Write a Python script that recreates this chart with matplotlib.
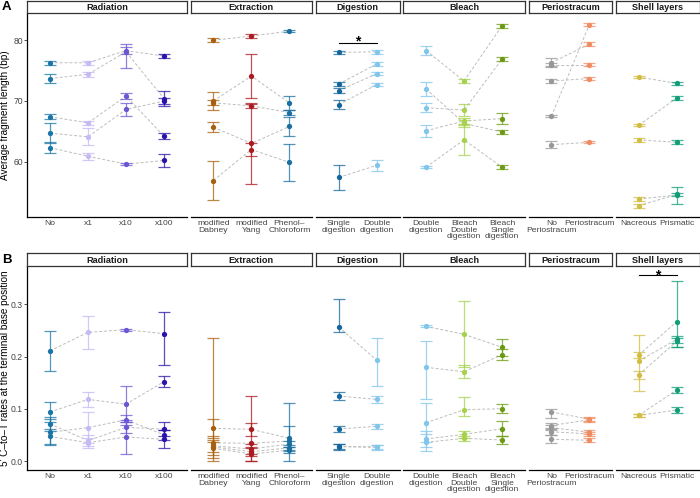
import matplotlib
matplotlib.use("Agg")
import matplotlib.pyplot as plt

plt.rcParams['font.family'] = ['Liberation Sans', 'DejaVu Sans']

# ---------------- data ----------------
panel_titles = ["Radiation", "Extraction", "Digestion", "Bleach", "Periostracum", "Shell layers"]

rad_cats = ["No", "x1", "x10", "x100"]
ext_cats = ["modified\nDabney", "modified\nYang", "Phenol–\nChloroform"]
dig_cats = ["Single\ndigestion", "Double\ndigestion"]
ble_cats = ["Double\ndigestion", "Bleach\nDouble\ndigestion", "Bleach\nSingle\ndigestion"]
per_cats = ["No\nPeriostracum", "Periostracum"]
she_cats = ["Nacreous", "Prismatic"]

rad_colors = ["#1b75a6", "#c6b9f6", "#6c55d3", "#2c12a8"]
ext_colors = ["#a8600e", "#aa1a20", "#1a6fa0"]
dig_colors = ["#14679c", "#80c5ec"]
ble_colors = ["#80c5ec", "#a6d14a", "#6b9a12"]
per_colors = ["#979797", "#f08c62"]
she_colors = ["#d2bd43", "#0f9e78"]

# Panel A: average fragment length (bp); one list per category, samples in same order
lenA_rad = [[76.3, 73.7, 67.4, 64.7, 62.3],
            [76.3, 74.4, 66.4, 64.1, 60.9],
            [78.3, 78.1, 70.8, 68.6, 59.6],
            [77.4, 70.4, 64.2, 70.0, 60.2]]
errA_rad = [[0.35, 0.7, 0.4, 1.7, 0.9],
            [0.35, 0.4, 0.35, 1.4, 0.6],
            [0.6, (2.6, 1.3), 0.45, 1.15, 0.2],
            [0.4, 1.3, 0.5, 0.5, 1.0]]
lenA_ext = [[80.0, 70.0, 69.7, 65.7, 56.9],
            [80.7, 74.1, 69.2, 63.0, 62.0],
            [81.5, 69.7, 68.1, 65.8, 59.9]]
errA_ext = [[0.3, 1.5, 0.4, 0.8, 3.2],
            [0.3, 3.6, 0.3, 6.6, 1.0],
            [0.2, 1.2, 0.4, 1.5, 3.0]]
lenA_dig = [[78.0, 72.8, 71.7, 69.4, 57.4],
            [78.1, 76.1, 74.5, 72.7, 59.4]]
errA_dig = [[0.3, 0.4, 0.4, 0.8, 2.0],
            [0.3, 0.3, 0.3, 0.3, 0.9]]
lenA_ble = [[78.3, 72.0, 68.9, 65.1, 59.1],
            [73.3, 66.3, 68.5, 66.7, 63.6],
            [82.4, 64.9, 76.9, 67.1, 59.1]]
errA_ble = [[0.8, 1.1, 0.7, 1.0, 0.2],
            [0.3, 0.6, 1.0, 0.5, 2.5],
            [0.3, 0.3, 0.3, 0.9, 0.3]]
lenA_per = [[76.3, 76.0, 73.3, 67.5, 62.8],
            [79.4, 76.0, 73.7, 82.6, 63.2]]
errA_per = [[0.7, 0.3, 0.3, 0.2, 0.6],
            [0.3, 0.3, 0.3, 0.3, 0.2]]
lenA_she = [[73.95, 66.0, 63.6, 53.85, 52.75],
            [72.9, 70.5, 63.2, 54.5, 54.6]]
errA_she = [[0.2, 0.2, 0.3, 0.3, 0.3],
            [0.3, 0.3, 0.3, 1.4, 0.3]]

# Panel B: 5' C-to-T rates at the terminal base position
ctB_rad = [[0.211, 0.094, 0.071, 0.055, 0.047],
           [0.2465, 0.118, 0.039, 0.064, 0.035],
           [0.2516, 0.109, 0.0645, 0.079, 0.046],
           [0.244, 0.152, 0.061, 0.050, 0.0415]]
errB_rad = [[0.039, 0.019, 0.013, 0.025, 0.015],
            [0.032, 0.014, 0.010, 0.029, 0.010],
            [0.002, 0.035, 0.010, 0.010, 0.033],
            [(0.061, 0.041), 0.010, 0.014, 0.010, 0.017]]
ctB_ext = [[0.0626, 0.035, 0.029, 0.027, 0.0243],
           [0.0607, 0.0339, 0.023, 0.0178, 0.0134],
           [0.0435, 0.0383, 0.0326, 0.0255, 0.021]]
errB_ext = [[0.018, 0.200, 0.012, 0.021, 0.012],
            [0.012, 0.091, 0.010, 0.008, 0.013],
            [0.023, 0.072, 0.006, 0.006, 0.006]]
ctB_dig = [[0.2567, 0.1245, 0.0613, 0.0274, 0.0280],
           [0.193, 0.118, 0.0665, 0.0262, 0.0270]]
errB_dig = [[(0.010, 0.053), 0.0075, 0.0064, 0.006, 0.005],
            [(0.049, 0.042), 0.006, 0.005, 0.005, 0.004]]
ctB_ble = [[0.258, 0.1795, 0.0734, 0.0421, 0.0358],
           [0.2427, 0.171, 0.0983, 0.0511, 0.0435],
           [0.2178, 0.2037, 0.1002, 0.0619, 0.0402]]
errB_ble = [[0.002, (0.061, 0.051), 0.037, 0.016, 0.016],
            [0.063, 0.012, (0.013, 0.024), 0.007, 0.005],
            [0.016, 0.010, 0.009, 0.014, 0.007]]
ctB_per = [[0.094, 0.068, 0.064, 0.056, 0.0416],
           [0.080, 0.079, 0.055, 0.052, 0.0397]]
errB_per = [[(0.012, 0.006), 0.005, 0.005, 0.006, 0.008],
            [0.004, 0.004, 0.004, 0.004, 0.004]]
ctB_she = [[0.2031, 0.1916, 0.1653, 0.0875, 0.0875],
           [0.2669, 0.2331, 0.2293, 0.136, 0.0977]]
errB_she = [[0.005, (0.058, 0.050), 0.008, 0.003, 0.003],
            [(0.049, 0.078), 0.007, (0.011, 0.007), 0.005, 0.005]]

sigA = ("Digestion", 79.6)     # bracket between the two digestion groups
sigB = ("Shell layers", 0.356)  # bracket between the two shell layers

# ---------------- layout ----------------
W, H = 700, 498
fig = plt.figure(figsize=(W / 100, H / 100), dpi=100)

UNIT, X0, GAP = 38.0, 27.2, 3.75
GRAY_TXT = "#444444"
LINE_C = "#bdbdbd"

panels_cats = [rad_cats, ext_cats, dig_cats, ble_cats, per_cats, she_cats]
panels_cols = [rad_colors, ext_colors, dig_colors, ble_colors, per_colors, she_colors]
rowA = dict(top=14.0, bottom=216.7, ylim=(50.94, 84.33), ticks=[60, 70, 80],
            ticklabels=["60", "70", "80"], strip=(1.3, 13.4),
            vals=[lenA_rad, lenA_ext, lenA_dig, lenA_ble, lenA_per, lenA_she],
            errs=[errA_rad, errA_ext, errA_dig, errA_ble, errA_per, errA_she],
            ylabel="Average fragment length (bp)", letter="A", letter_y=7.5,
            clip0=False, sig=sigA, star_off=-0.9)
rowB = dict(top=266.0, bottom=470.0, ylim=(-0.01724, 0.3736), ticks=[0.0, 0.1, 0.2, 0.3],
            ticklabels=["0.0", "0.1", "0.2", "0.3"], strip=(253.3, 265.8),
            vals=[ctB_rad, ctB_ext, ctB_dig, ctB_ble, ctB_per, ctB_she],
            errs=[errB_rad, errB_ext, errB_dig, errB_ble, errB_per, errB_she],
            ylabel="5' C–to–T rates at the terminal base position", letter="B",
            letter_y=259.5, clip0=True, sig=sigB, star_off=-0.013)


def fx(px):
    return px / W


def fy(py):
    return 1 - py / H


for row in (rowA, rowB):
    x = X0
    for pi, (title, cats, cols) in enumerate(zip(panel_titles, panels_cats, panels_cols)):
        n = len(cats)
        wpx = UNIT * (n - 1 + 1.2)
        ax = fig.add_axes([fx(x), fy(row["bottom"]), fx(wpx), (row["bottom"] - row["top"]) / H])
        ax.set_xlim(-0.6, n - 1 + 0.6)
        ax.set_ylim(*row["ylim"])
        for s in ("top", "right"):
            ax.spines[s].set_visible(False)
        ax.spines["bottom"].set_linewidth(0.9)
        ax.spines["left"].set_linewidth(0.9)
        if pi > 0:
            ax.spines["left"].set_visible(False)
            ax.set_yticks([])
        else:
            ax.set_yticks(row["ticks"])
            ax.set_yticklabels(row["ticklabels"])
            ax.tick_params(axis="y", length=2.0, width=0.6, color="#333333", pad=1.2,
                           labelsize=6.2, labelcolor=GRAY_TXT)
        ax.set_xticks(range(n))
        ax.set_xticklabels(cats, linespacing=0.88)
        ax.tick_params(axis="x", length=0, pad=2.5, labelsize=6.1, labelcolor=GRAY_TXT)
        ax.patch.set_alpha(0)

        vals = row["vals"][pi]
        errs = row["errs"][pi]
        ns = len(vals[0])
        # connecting dashed lines
        for s in range(ns):
            ax.plot(range(n), [vals[j][s] for j in range(n)], ls=(0, (3, 2)),
                    color=LINE_C, lw=0.7, zorder=1)
        for j in range(n):
            for s in range(ns):
                v = vals[j][s]
                e = errs[j][s]
                dn, up = (e if isinstance(e, tuple) else (e, e))
                if row["clip0"]:
                    dn = min(dn, v)
                ax.errorbar([j], [v], yerr=[[dn], [up]], fmt="none", ecolor=cols[j],
                            alpha=0.75, elinewidth=0.9, capsize=4.3, capthick=0.9, zorder=2)
            ax.plot([j] * ns, vals[j], "o", ms=3.8, mew=0, color=cols[j], zorder=3)

        if row["sig"][0] == title:
            ys = row["sig"][1]
            ax.plot([0, 1], [ys, ys], color="black", lw=0.8, zorder=4, clip_on=False)
            ax.text(0.5, ys + row["star_off"], "*", ha="center", va="bottom",
                    fontsize=10, fontweight="bold", color="black", clip_on=False)

        # strip
        st, sb = row["strip"]
        sax = fig.add_axes([fx(x), fy(sb), fx(wpx), (sb - st) / H])
        sax.set_xticks([])
        sax.set_yticks([])
        for s in sax.spines.values():
            s.set_linewidth(0.9)
            s.set_color("#333333")
        sax.text(0.5, 0.45, title, ha="center", va="center", fontsize=6.6,
                 fontweight="bold", color="#1a1a1a", transform=sax.transAxes)
        x += wpx + GAP

    # y label and panel letter
    yc = (row["top"] + row["bottom"]) / 2
    fig.text(fx(5.5), fy(yc), row["ylabel"], rotation=90, ha="center", va="center",
             fontsize=7.2, color="black")
    fig.text(fx(6.5), fy(row["letter_y"]), row["letter"], ha="center", va="center",
             fontsize=9.5, fontweight="bold", color="black")

fig.savefig("out.png", dpi=100)
